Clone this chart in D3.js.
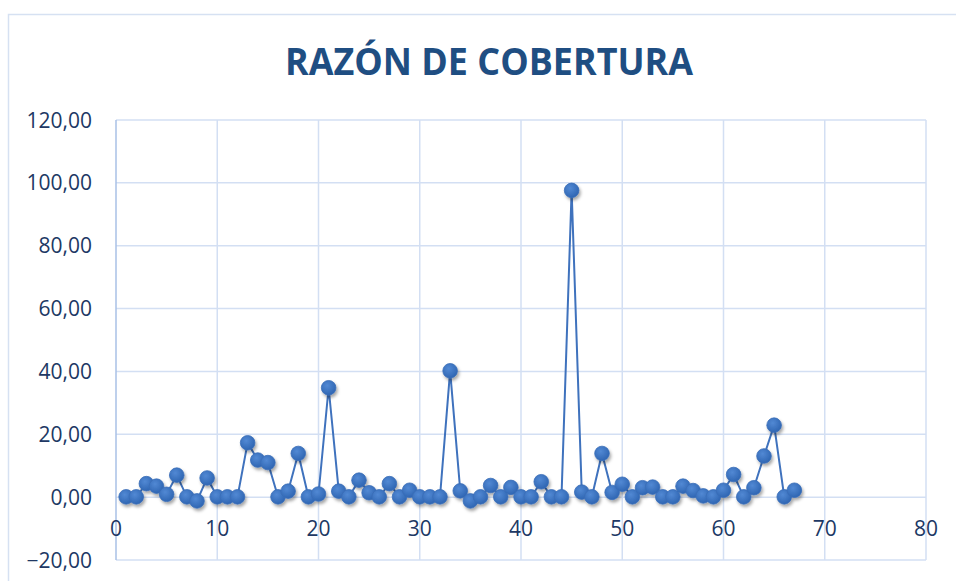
<!DOCTYPE html>
<html><head><meta charset="utf-8">
<script src="https://cdn.jsdelivr.net/npm/d3@7"></script>
<style>html,body{margin:0;padding:0;background:#fff;overflow:hidden}</style>
</head><body>
<svg id="c" width="956" height="581"></svg>
<script>
const title = "RAZÓN DE COBERTURA";
const xValues = d3.range(1, 68);
const yValues = [0.1,0.1,4.3,3.5,0.9,7.0,0.1,-1.2,6.1,0.1,0.1,0.1,17.3,11.8,11.0,0.1,1.9,13.9,0.1,1.0,
  34.8,1.9,0.1,5.4,1.4,0.1,4.3,0.1,2.2,0.1,0.1,0.1,40.2,2.0,-1.2,0.1,3.7,0.1,3.1,0.1,
  0.1,4.9,0.1,0.1,97.6,1.6,0.1,13.9,1.5,4.1,0.1,3.0,3.2,0.1,0.1,3.5,2.1,0.4,0.1,2.2,
  7.2,0.1,3.0,13.1,22.9,0.1,2.2];
const xTicks = [0,10,20,30,40,50,60,70,80];
const yTicks = [-20,0,20,40,60,80,100,120];

const svg = d3.select("#c");
const x = d3.scaleLinear().domain([0,80]).range([116,926]);
const y = d3.scaleLinear().domain([-20,120]).range([560,120]);

const defs = svg.append("defs");
const grad = defs.append("radialGradient").attr("id","mg").attr("cx","40%").attr("cy","35%").attr("r","65%");
grad.append("stop").attr("offset","0%").attr("stop-color","#5289d4");
grad.append("stop").attr("offset","100%").attr("stop-color","#2f66b3");
const f = defs.append("filter").attr("id","sh").attr("x","-50%").attr("y","-50%").attr("width","200%").attr("height","200%");
f.append("feDropShadow").attr("dx",1.5).attr("dy",2.5).attr("stdDeviation",1.8).attr("flood-color","#000").attr("flood-opacity",0.35);

// frame
svg.append("rect").attr("x",8.5).attr("y",14.5).attr("width",1000).attr("height",1000)
  .attr("fill","none").attr("stroke","#d6e1f2").attr("stroke-width",1.5);

// title
svg.append("text").attr("x",489).attr("y",75).attr("text-anchor","middle")
  .attr("font-family","Open Sans").attr("font-weight","bold").attr("font-size",38)
  .attr("fill","#1f4e82").attr("textLength",408).attr("lengthAdjust","spacingAndGlyphs").text(title);

// grid
const g = svg.append("g");
g.selectAll(".hg").data(yTicks).join("line")
  .attr("x1",x(0)).attr("x2",x(80)).attr("y1",d=>y(d)).attr("y2",d=>y(d))
  .attr("stroke","#d3dff3").attr("stroke-width",1.5);
g.selectAll(".vg").data(xTicks.slice(1)).join("line")
  .attr("x1",d=>x(d)).attr("x2",d=>x(d)).attr("y1",y(-20)).attr("y2",y(120))
  .attr("stroke","#d3dff3").attr("stroke-width",1.5);
// axes
g.append("line").attr("x1",x(0)).attr("x2",x(0)).attr("y1",y(-20)).attr("y2",y(120))
  .attr("stroke","#a9c0e6").attr("stroke-width",1.5);

// tick labels
const fmt = d => d3.format(".2f")(d).replace(".", ",");
svg.selectAll(".yl").data(yTicks).join("text")
  .attr("x",92).attr("y",d=>y(d)).attr("dy","0.36em").attr("text-anchor","end")
  .attr("font-family","Open Sans").attr("font-size",21).attr("fill","#203864").text(fmt);
svg.selectAll(".xl").data(xTicks).join("text")
  .attr("x",d=>x(d)).attr("y",y(0)+31).attr("dy","0.36em").attr("text-anchor","middle")
  .attr("font-family","Open Sans").attr("font-size",21).attr("fill","#203864").text(d=>d);

// line
const data = xValues.map((d,i)=>({x:d,y:yValues[i]}));
svg.append("path").datum(data)
  .attr("d", d3.line().x(d=>x(d.x)).y(d=>y(d.y)))
  .attr("fill","none").attr("stroke","#3f72bd").attr("stroke-width",2);
svg.append("g").attr("filter","url(#sh)").selectAll("circle").data(data).join("circle")
  .attr("cx",d=>x(d.x)).attr("cy",d=>y(d.y)).attr("r",7.3)
  .attr("fill","url(#mg)").attr("stroke","#3a6db8").attr("stroke-width",0.8);
</script>
</body></html>
